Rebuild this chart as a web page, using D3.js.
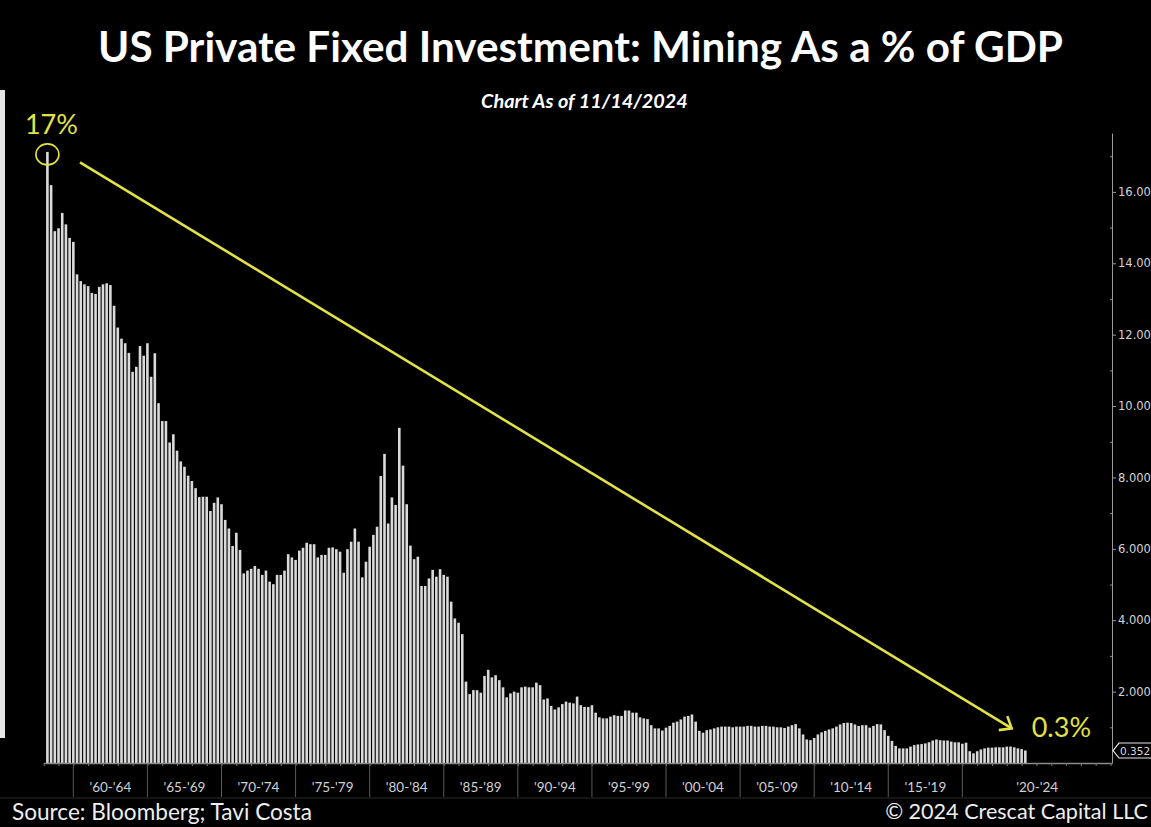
<!DOCTYPE html>
<html>
<head>
<meta charset="utf-8">
<script src="https://cdn.jsdelivr.net/npm/d3@7"></script>
<style>
html, body { margin: 0; padding: 0; background: #000; }
svg { display: block; }
</style>
</head>
<body>
<div id="chart"></div>
<script>
// quarterly values, % of GDP, first bar = quarter ending 1958.25
var firstQuarter = 1958.25;
var values = [
    17.12, 16.19, 14.90, 14.98, 15.41, 15.09, 14.71, 14.60, 13.69, 13.50,
    13.41, 13.36, 13.17, 13.14, 13.34, 13.41, 13.44, 13.39, 12.81, 12.20,
    11.89, 11.76, 11.49, 10.96, 11.10, 11.68, 11.41, 11.76, 10.82, 11.48,
    10.08, 9.58, 9.58, 8.98, 9.21, 8.75, 8.45, 8.30, 8.05, 7.90,
    7.70, 7.45, 7.46, 7.46, 7.06, 7.29, 7.44, 7.25, 6.81, 6.57,
    6.08, 6.45, 5.97, 5.31, 5.39, 5.44, 5.52, 5.44, 5.27, 5.39,
    5.08, 5.01, 5.27, 5.27, 5.39, 5.85, 5.76, 5.69, 5.95, 6.03,
    6.17, 6.13, 6.13, 5.76, 5.83, 5.83, 6.03, 6.04, 5.99, 5.92,
    5.33, 5.99, 6.20, 6.57, 6.20, 5.20, 5.64, 6.06, 6.39, 6.62,
    8.04, 8.66, 6.71, 7.44, 7.23, 9.39, 8.33, 7.25, 6.09, 5.71,
    5.78, 4.96, 4.96, 5.17, 5.41, 5.22, 5.43, 5.27, 5.22, 4.52,
    4.05, 3.93, 3.61, 2.28, 1.93, 2.04, 2.04, 1.97, 2.44, 2.61,
    2.40, 2.46, 2.32, 2.12, 1.84, 1.95, 2.00, 1.97, 2.12, 2.14,
    2.12, 2.12, 2.25, 2.18, 1.78, 1.81, 1.60, 1.50, 1.56, 1.65,
    1.72, 1.69, 1.67, 1.86, 1.62, 1.57, 1.57, 1.62, 1.41, 1.28,
    1.25, 1.25, 1.30, 1.34, 1.32, 1.32, 1.47, 1.47, 1.41, 1.41,
    1.28, 1.25, 1.23, 1.06, 0.97, 0.97, 0.91, 0.99, 1.04, 1.13,
    1.16, 1.22, 1.30, 1.32, 1.36, 1.16, 0.90, 0.85, 0.92, 0.94,
    0.97, 1.00, 1.02, 1.02, 1.02, 1.00, 1.02, 1.02, 1.02, 1.04,
    1.04, 1.02, 1.02, 1.04, 1.04, 1.02, 1.02, 1.00, 1.00, 0.98,
    1.02, 1.06, 1.09, 0.97, 0.80, 0.66, 0.64, 0.70, 0.80, 0.86,
    0.90, 0.94, 0.97, 1.02, 1.08, 1.12, 1.13, 1.12, 1.08, 1.04,
    1.06, 1.06, 0.99, 1.04, 1.09, 1.08, 0.92, 0.76, 0.62, 0.48,
    0.41, 0.41, 0.41, 0.46, 0.50, 0.52, 0.53, 0.55, 0.58, 0.63,
    0.66, 0.64, 0.63, 0.63, 0.60, 0.58, 0.58, 0.54, 0.57, 0.33,
    0.27, 0.33, 0.38, 0.41, 0.43, 0.43, 0.44, 0.44, 0.44, 0.46,
    0.46, 0.44, 0.41, 0.39, 0.35
];
var spanStarts = [1960, 1965, 1970, 1975, 1980, 1985, 1990, 1995, 2000, 2005, 2010, 2015, 2020];
var spanLabels = ["'60-'64", "'65-'69", "'70-'74", "'75-'79", "'80-'84", "'85-'89", "'90-'94",
                  "'95-'99", "'00-'04", "'05-'09", "'10-'14", "'15-'19", "'20-'24"];
var yMajor = [2, 4, 6, 8, 10, 12, 14, 16];
var yMinor = [1, 3, 5, 7, 9, 11, 13, 15, 17];
var lastValueLabel = "0.352";

var width = 1151, height = 827;
var yellow = "#e2e246";
var x = d3.scaleLinear().domain([1958, 2030.1]).range([43.7, 1112]);
var y = d3.scaleLinear().domain([0, 17.65]).range([763, 133]);

var svg = d3.select("#chart").append("svg")
    .attr("width", width)
    .attr("height", height)
    .style("background", "#000");

// light strip on the left edge of the screenshot
svg.append("rect").attr("x", 0).attr("y", 90).attr("width", 5).attr("height", 648).attr("fill", "#e6e6e6");

function fit(t, w) {
    var fs = +t.attr("font-size");
    var len = t.node().getComputedTextLength();
    t.attr("font-size", (fs * w / len).toFixed(2));
}

var title = svg.append("text")
    .attr("x", 580.5).attr("y", 62)
    .attr("text-anchor", "middle")
    .attr("font-family", "Lato, 'Open Sans', sans-serif")
    .attr("font-weight", "bold")
    .attr("font-size", 38)
    .attr("fill", "#fff")
    .text("US Private Fixed Investment: Mining As a % of GDP");
fit(title, 965);

var sub = svg.append("text")
    .attr("x", 584.5).attr("y", 108)
    .attr("text-anchor", "middle")
    .attr("font-family", "Lato, 'Open Sans', sans-serif")
    .attr("font-weight", "bold")
    .attr("font-style", "italic")
    .attr("font-size", 16)
    .attr("fill", "#fff")
    .text("Chart As of 11/14/2024");
fit(sub, 207);

// bars
var barW = 2.6;
svg.append("g").selectAll("rect")
    .data(values)
    .enter().append("rect")
    .attr("x", function (d, i) { return x(firstQuarter + i / 4) - barW / 2; })
    .attr("y", function (d) { return y(d); })
    .attr("width", barW)
    .attr("height", function (d) { return y(0) - y(d); })
    .attr("fill", "#dadada");

// x axis: yearly minor ticks
var years = d3.range(1958, 2031);
var xAxis = d3.axisBottom(x).tickValues(years).tickSize(3).tickSizeOuter(0).tickFormat("");
var gx = svg.append("g").attr("transform", "translate(0," + y(0) + ")").call(xAxis);
gx.select(".domain").attr("stroke", "#8a8a8a").attr("stroke-width", 1.5);
gx.selectAll(".tick line").attr("stroke", "#777");

// 5-year separators and labels
svg.append("g").selectAll("line")
    .data(spanStarts)
    .enter().append("line")
    .attr("x1", function (d) { return x(d); })
    .attr("x2", function (d) { return x(d); })
    .attr("y1", y(0) + 1)
    .attr("y2", 797)
    .attr("stroke", "#5a5a5a")
    .attr("stroke-width", 1);

svg.append("g").selectAll("text")
    .data(spanLabels)
    .enter().append("text")
    .attr("x", function (d, i) {
        var end = i < spanStarts.length - 1 ? spanStarts[i + 1] : x.domain()[1];
        return x((spanStarts[i] + end) / 2);
    })
    .attr("y", 792)
    .attr("text-anchor", "middle")
    .attr("font-family", "Lato, sans-serif")
    .attr("font-size", 13.5)
    .attr("fill", "#d0d0d0")
    .text(function (d) { return d; });

svg.append("line").attr("x1", 0).attr("x2", width).attr("y1", 798).attr("y2", 798)
    .attr("stroke", "#2a2a2a");

// y axis on the right
var yAxis = d3.axisRight(y).tickValues(yMajor).tickSize(4).tickPadding(2)
    .tickSizeOuter(0).tickFormat(d3.format(".3f"));
var gy = svg.append("g").attr("transform", "translate(" + x.range()[1] + ",0)").call(yAxis);
gy.select(".domain").attr("stroke", "#9a9a9a");
gy.selectAll(".tick line").attr("stroke", "#9a9a9a");
gy.selectAll(".tick text")
    .attr("font-family", "'DejaVu Sans', sans-serif")
    .attr("font-size", 11.5)
    .attr("fill", "#d4d4d4");

var yMinorAxis = d3.axisLeft(y).tickValues(yMinor).tickSize(2).tickFormat("");
var gym = svg.append("g").attr("transform", "translate(" + x.range()[1] + ",0)").call(yMinorAxis);
gym.select(".domain").remove();
gym.selectAll(".tick line").attr("stroke", "#888");

// last value tag
var lastY = y(values[values.length - 1]);
var tag = svg.append("g").attr("transform", "translate(" + (x.range()[1] + 1) + "," + lastY + ")");
tag.append("path")
    .attr("d", "M0,0 L6,-7.5 L46,-7.5 L46,7.5 L6,7.5 Z")
    .attr("fill", "#000")
    .attr("stroke", "#e8e8e8")
    .attr("stroke-width", 1.2);
tag.append("text")
    .attr("x", 7).attr("y", 4)
    .attr("font-family", "'DejaVu Sans', sans-serif")
    .attr("font-size", 10.5)
    .attr("fill", "#d8d8d8")
    .text(lastValueLabel);

// annotations
var peak = { year: firstQuarter, value: 17.05, label: "17%" };
var arrowFrom = { year: 1960.45, value: 16.83 };
var arrowTo = { year: 2023.33, value: 0.97, label: "0.3%" };

var px = x(peak.year), py = y(peak.value);
svg.append("ellipse")
    .attr("cx", px).attr("cy", py).attr("rx", 11.5).attr("ry", 10.5)
    .attr("fill", "none").attr("stroke", yellow).attr("stroke-width", 1.6);
svg.append("text")
    .attr("x", px + 4).attr("y", py - 20)
    .attr("text-anchor", "middle")
    .attr("font-family", "Lato, sans-serif")
    .attr("font-size", 27)
    .attr("fill", yellow)
    .text(peak.label);

var ax0 = x(arrowFrom.year), ay0 = y(arrowFrom.value);
var ax1 = x(arrowTo.year), ay1 = y(arrowTo.value);
svg.append("line")
    .attr("x1", ax0).attr("y1", ay0).attr("x2", ax1).attr("y2", ay1)
    .attr("stroke", yellow).attr("stroke-width", 2.6);
var ang = Math.atan2(ay0 - ay1, ax0 - ax1), headLen = 13, spread = 0.68;
svg.append("path")
    .attr("d", "M" + (ax1 + headLen * Math.cos(ang - spread)) + "," + (ay1 + headLen * Math.sin(ang - spread)) +
        " L" + ax1 + "," + ay1 +
        " L" + (ax1 + headLen * Math.cos(ang + spread)) + "," + (ay1 + headLen * Math.sin(ang + spread)))
    .attr("fill", "none").attr("stroke", yellow).attr("stroke-width", 2.6)
    .attr("stroke-linejoin", "miter");
svg.append("text")
    .attr("x", ax1 + 20).attr("y", ay1 + 9)
    .attr("font-family", "Lato, sans-serif")
    .attr("font-size", 27)
    .attr("fill", yellow)
    .text(arrowTo.label);

// footer
var src = svg.append("text")
    .attr("x", 12).attr("y", 820)
    .attr("font-family", "Lato, sans-serif")
    .attr("font-size", 19)
    .attr("fill", "#eee")
    .text("Source: Bloomberg; Tavi Costa");
fit(src, 300);
var copy = svg.append("text")
    .attr("x", 1148).attr("y", 819)
    .attr("text-anchor", "end")
    .attr("font-family", "Lato, sans-serif")
    .attr("font-size", 19)
    .attr("fill", "#eee")
    .text("\u00a9 2024 Crescat Capital LLC");
fit(copy, 263);
</script>
</body>
</html>
